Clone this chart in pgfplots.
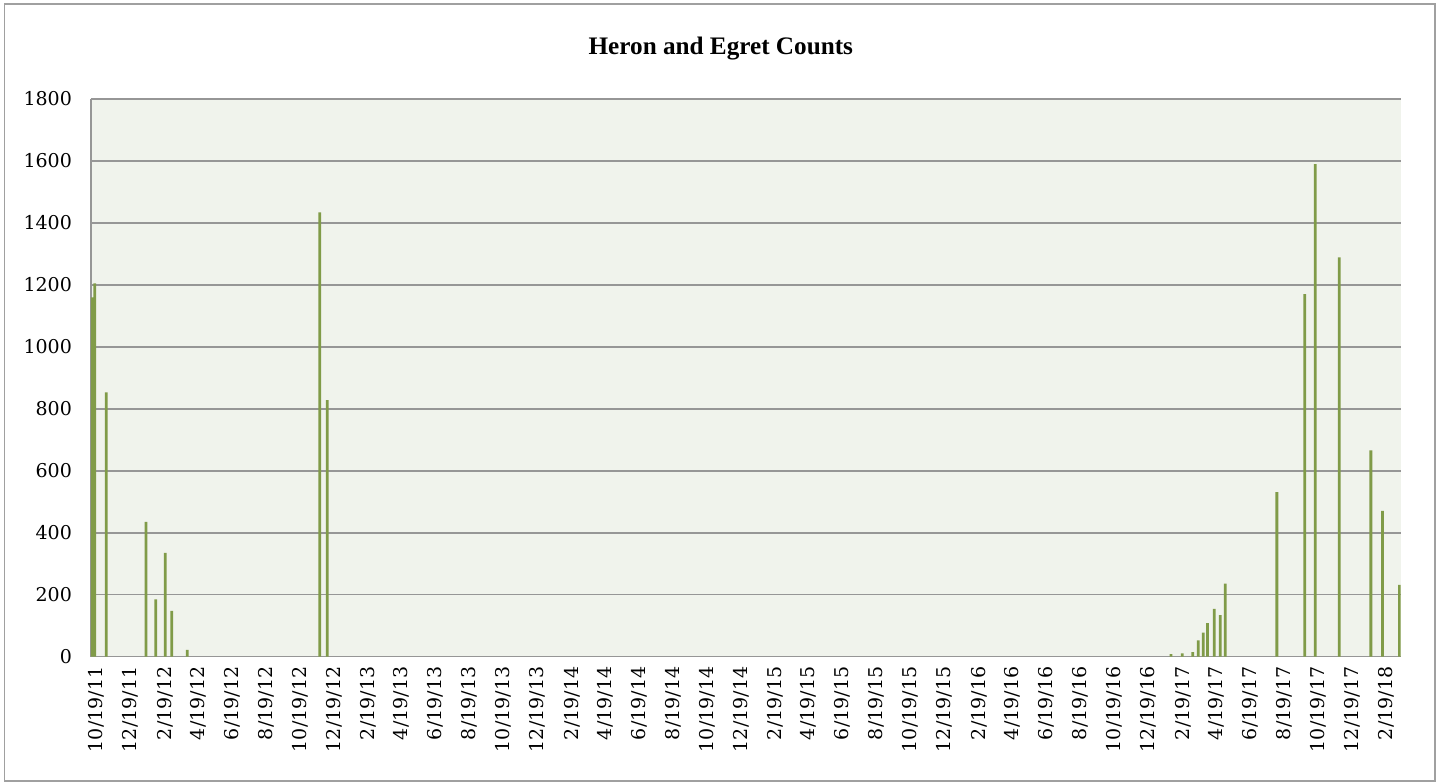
\documentclass[border=0pt]{standalone}
\usepackage{fontspec}
\setmainfont{DejaVu Serif}
\newfontfamily\titlefont{Liberation Serif}
\usepackage{pgfplots}
\pgfplotsset{compat=1.18}
\definecolor{bargreen}{RGB}{128,155,72}
\definecolor{plotbg}{RGB}{240,243,236}
\definecolor{gridgray}{RGB}{150,150,150}
\definecolor{framegray}{RGB}{160,160,160}
\begin{document}
\begin{tikzpicture}
\useasboundingbox (-45.5pt,-62.65pt) rectangle (674.5pt,328.35pt);
\draw[draw=framegray, line width=0.75pt] (-43.25pt,-62.15pt) rectangle (672pt,326.35pt);
\begin{axis}[
  at={(0pt,0pt)}, anchor=south west, scale only axis,
  width=654.85pt, height=278.85pt,
  xmin=-5.9, xmax=2344, ymin=0, ymax=1800,
  axis background/.style={fill=plotbg},
  axis x line*=bottom, axis y line*=left,
  axis line style={draw=gridgray, line width=0.75pt, -},
  ymajorgrids, grid style={draw=gridgray, line width=0.75pt},
  ytick={0,200,...,1800},
  xtick={0,61,123,183,244,305,366,427,489,548,609,670,731,792,854,913,974,1035,1096,1157,1219,1278,1339,1400,1461,1522,1584,1644,1705,1766,1827,1888,1950,2009,2070,2131,2192,2253,2315},
  xticklabels={10/19/11,12/19/11,2/19/12,4/19/12,6/19/12,8/19/12,10/19/12,12/19/12,2/19/13,4/19/13,6/19/13,8/19/13,10/19/13,12/19/13,2/19/14,4/19/14,6/19/14,8/19/14,10/19/14,12/19/14,2/19/15,4/19/15,6/19/15,8/19/15,10/19/15,12/19/15,2/19/16,4/19/16,6/19/16,8/19/16,10/19/16,12/19/16,2/19/17,4/19/17,6/19/17,8/19/17,10/19/17,12/19/17,2/19/18},
  major tick length=0pt,
  /pgf/number format/assume math mode=true,
  /pgf/number format/1000 sep={},
  tick label style={font=\fontsize{9.5}{11}\selectfont},
  xticklabel style={yshift=-1.5pt, xshift=1pt, rotate=90, anchor=east},
  yticklabel style={xshift=-6pt},
  title={Heron and Egret Counts},
  title style={font=\titlefont\fontsize{12.6}{14}\selectfont\bfseries, at={(0.4809,1.0789)}, anchor=base, yshift=-6pt},
  clip=true,
]
\addplot[ybar, bar width=1.4pt, fill=bargreen, draw=none] coordinates {
  (-3.5,1160) (1,1205) (21.5,853) (92.8,435) (110.2,185) (127.4,335)
  (138.9,148) (166.8,22) (404.4,1434) (418,828)
  (1932,8) (1952,11) (1971,15) (1980.6,53) (1989.6,78) (1997.5,108)
  (2009.3,154) (2020.1,134) (2029.1,236)
  (2121.8,531) (2172,1170) (2190.5,1590) (2233.6,1289) (2290.5,666)
  (2311.4,471) (2342,232)
};
\end{axis}
\end{tikzpicture}
\end{document}
